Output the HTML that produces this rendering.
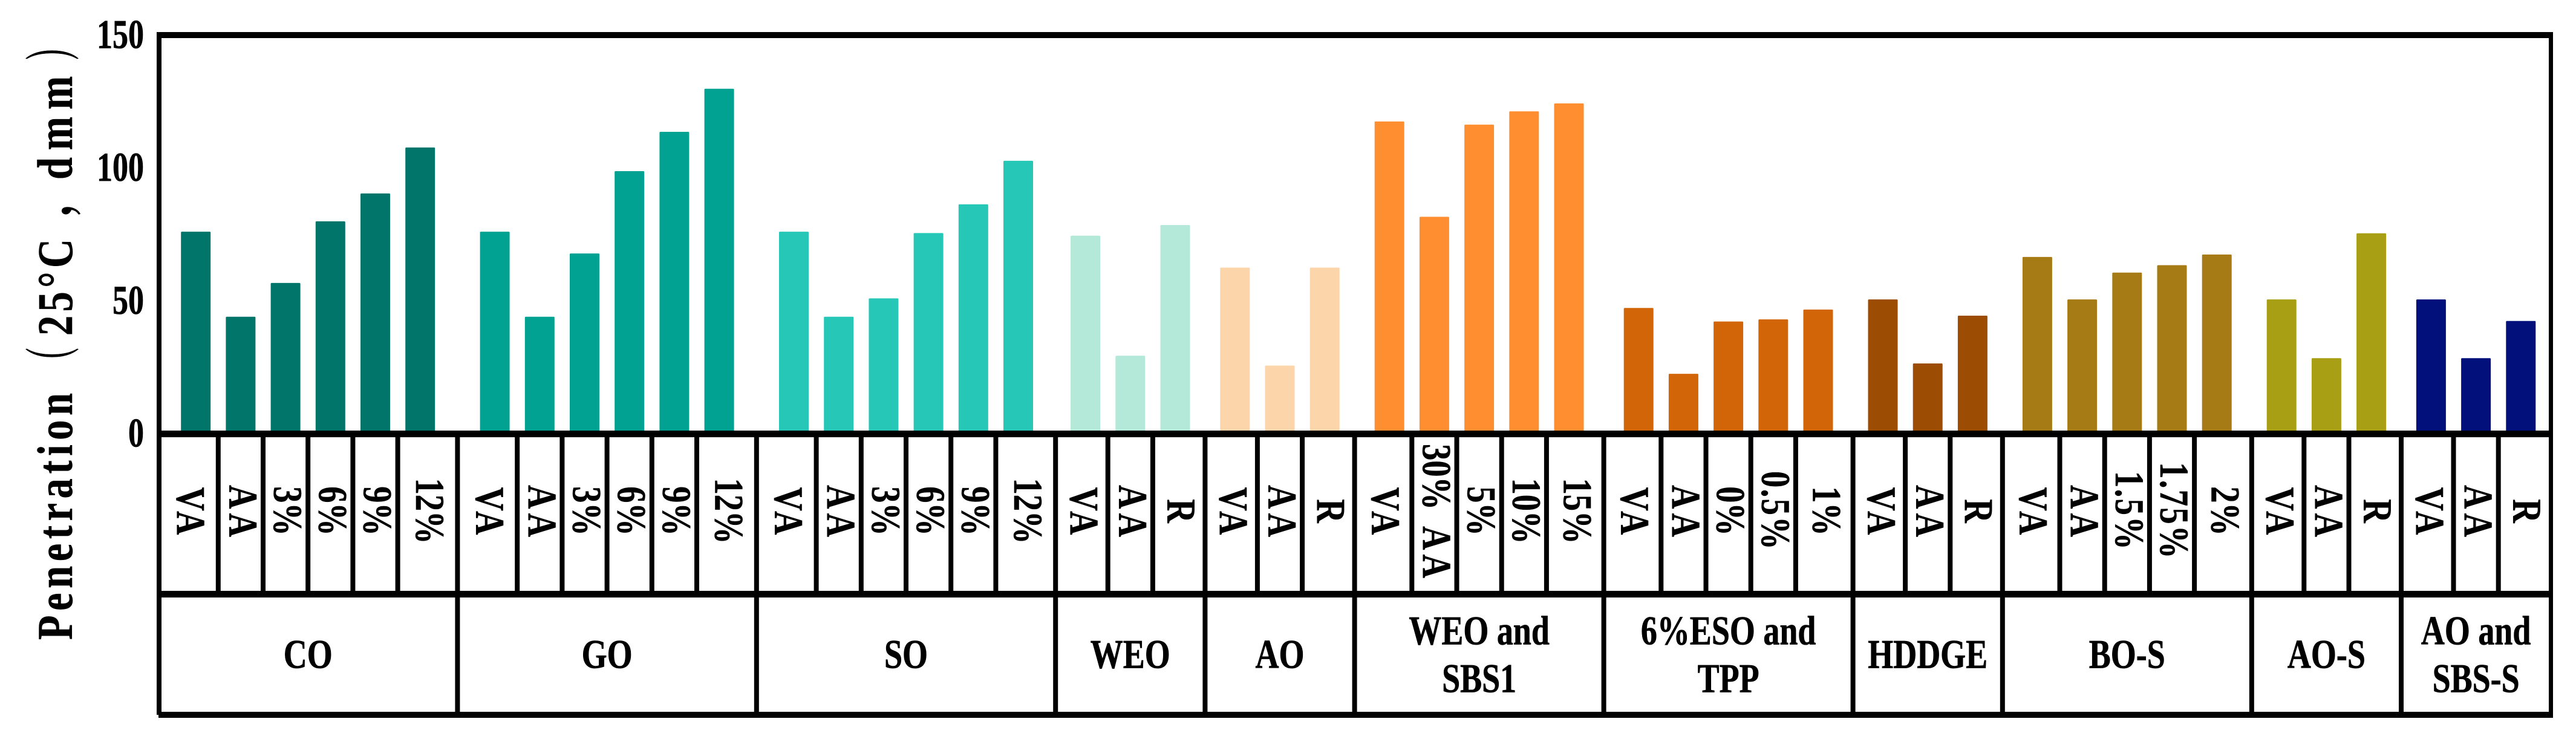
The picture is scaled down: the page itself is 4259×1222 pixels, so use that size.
<!DOCTYPE html>
<html lang="en">
<head>
<meta charset="utf-8">
<title>Penetration chart</title>
<style>
  html, body { margin: 0; padding: 0; background: #fff; }
  svg { display: block; }
  text { font-family: "Liberation Serif", "Noto Serif CJK SC", serif; font-weight: bold; fill: #000; stroke: #000; stroke-width: 0.6px; }
</style>
</head>
<body>
<svg id="chart" xmlns="http://www.w3.org/2000/svg" width="4259" height="1222" viewBox="0 0 4259 1222">
  <rect x="0" y="0" width="4259" height="1222" fill="#ffffff"/>
  <g id="bars"></g>
  <g id="separators"></g>
  <g fill="#000000">
    <rect x="259" y="53" width="3962" height="10"/>
    <rect x="259" y="53" width="8" height="1129"/>
    <rect x="4214" y="53" width="7" height="1133"/>
    <rect x="259" y="712" width="3962" height="11"/>
    <rect x="259" y="977" width="3962" height="11"/>
    <rect x="262" y="1177" width="3959" height="10"/>
  </g>
  <g id="ticks"></g>
  <g id="barLabels"></g>
  <g id="groupLabels"></g>
  <g>
    <text transform="translate(119,1058) rotate(-90) scale(0.8,1)" font-size="83" textLength="510" lengthAdjust="spacing">Penetration</text>
    <text transform="translate(121,620) rotate(-90) scale(0.5,1)" font-size="92">（</text>
    <text transform="translate(119,555) rotate(-90) scale(0.8,1)" font-size="83" textLength="200" lengthAdjust="spacing">25°C</text>
    <text transform="translate(114,358) rotate(-90) scale(0.8,1)" font-size="83">，</text>
    <text transform="translate(119,297) rotate(-90) scale(0.8,1)" font-size="83" textLength="214" lengthAdjust="spacing">dmm</text>
    <text transform="translate(121,100) rotate(-90) scale(0.5,1)" font-size="92">）</text>
  </g>
</svg>
<script>
const groupTitles = [["CO"], ["GO"], ["SO"], ["WEO"], ["AO"], ["WEO and", "SBS1"], ["6%ESO and", "TPP"], ["HDDGE"], ["BO-S"], ["AO-S"], ["AO and", "SBS-S"]];
const groupCategories = [
  ["VA", "AA", "3%", "6%", "9%", "12%"],
  ["VA", "AA", "3%", "6%", "9%", "12%"],
  ["VA", "AA", "3%", "6%", "9%", "12%"],
  ["VA", "AA", "R"],
  ["VA", "AA", "R"],
  ["VA", "30% AA", "5%", "10%", "15%"],
  ["VA", "AA", "0%", "0.5%", "1%"],
  ["VA", "AA", "R"],
  ["VA", "AA", "1.5%", "1.75%", "2%"],
  ["VA", "AA", "R"],
  ["VA", "AA", "R"]
];
const groupValues = [
  [76, 44, 56.7, 79.9, 90.4, 107.7],
  [76, 44, 67.8, 98.8, 113.6, 129.8],
  [76, 44, 50.9, 75.5, 86.3, 102.7],
  [74.5, 29.3, 78.5],
  [62.5, 25.6, 62.5],
  [117.5, 81.6, 116.3, 121.3, 124.3],
  [47.3, 22.5, 42.2, 43, 46.7],
  [50.5, 26.4, 44.4],
  [66.5, 50.5, 60.6, 63.4, 67.4],
  [50.5, 28.4, 75.4],
  [50.5, 28.4, 42.4]
];
const groupColors = ["#02756b", "#02a292", "#26c7b7", "#b4e9d9", "#fdd5aa", "#fe8e2f", "#d16508", "#9c4c03", "#a67a15", "#a89f14", "#01107a"];
const yTicks = [0, 50, 100, 150];

const SVG_NS = "http://www.w3.org/2000/svg";
const PLOT_LEFT = 262, SLOT = 82.4, PITCH = 74.2, BAR_W = 49;
const Y_ZERO = 717, Y_UNIT = 4.393;

function yScale(v) { return Y_ZERO - v * Y_UNIT; }
function groupStart(g) {
  let slots = 0;
  for (let i = 0; i < g; i++) slots += groupValues[i].length;
  return PLOT_LEFT + slots * SLOT;
}
function groupCenter(g) { return groupStart(g) + groupValues[g].length * SLOT / 2; }
function barCenter(g, i) { return groupCenter(g) + (i - (groupValues[g].length - 1) / 2) * PITCH; }
function make(tag, parent) {
  const el = document.createElementNS(SVG_NS, tag);
  parent.appendChild(el);
  return el;
}
function slug(s) { return s.toLowerCase().replace(/[^a-z0-9]+/g, "-").replace(/^-|-$/g, ""); }

const barsLayer = document.getElementById("bars");
const sepLayer = document.getElementById("separators");
const tickLayer = document.getElementById("ticks");
const barLabelLayer = document.getElementById("barLabels");
const groupLabelLayer = document.getElementById("groupLabels");

function vLine(x, y1, y2, name) {
  const r = make("rect", sepLayer);
  r.setAttribute("x", x - 4);
  r.setAttribute("y", y1);
  r.setAttribute("width", 8);
  r.setAttribute("height", y2 - y1);
  r.setAttribute("fill", "#000");
  
  
}

groupValues.forEach(function (vals, g) {
  const key = slug(groupTitles[g].join(" "));
  vals.forEach(function (v, i) {
    const bar = make("rect", barsLayer);
    bar.setAttribute("x", barCenter(g, i) - BAR_W / 2);
    bar.setAttribute("y", yScale(v));
    bar.setAttribute("width", BAR_W);
    bar.setAttribute("height", Y_ZERO - yScale(v));
    bar.setAttribute("rx", 1.5);
    bar.setAttribute("fill", groupColors[g]);
    
    

    if (i < vals.length - 1) {
      vLine((barCenter(g, i) + barCenter(g, i + 1)) / 2, 720, 980, 'category-separator');
    }

    const label = groupCategories[g][i];
    const left = i === 0 ? groupStart(g) : (barCenter(g, i - 1) + barCenter(g, i)) / 2;
    const right = i === vals.length - 1 ? groupStart(g) + vals.length * SLOT : (barCenter(g, i) + barCenter(g, i + 1)) / 2;
    const cx = (left + right) / 2;
    const t = make("text", barLabelLayer);
    t.setAttribute("font-size", 68);
    t.setAttribute("text-anchor", "middle");
    const m = label.match(/^(.*?)(VA|AA)$/);
    const yShift = m ? 3.6 : 0;
    t.setAttribute("transform", "translate(" + (cx - 19) + "," + (845 + yShift) + ") rotate(90) scale(0.8,1)");
    if (m) {
      if (m[1]) {
        const a = make("tspan", t);
        a.textContent = m[1] + "\u00a0";
      }
      const b = make("tspan", t);
      b.setAttribute("letter-spacing", 9);
      b.textContent = m[2];
    } else {
      if (label.indexOf(".") >= 0) t.setAttribute("letter-spacing", 3);
      t.textContent = label;
    }
    
    
  });

  if (g > 0) vLine(groupStart(g), 720, 1180, 'group-separator');

  const lines = groupTitles[g];
  lines.forEach(function (line, j) {
    const baseline = lines.length === 1 ? 1104.5 : (j === 0 ? 1065.5 : 1144.5);
    const t = make("text", groupLabelLayer);
    t.setAttribute("font-size", 54);
    t.setAttribute("text-anchor", "middle");
    t.setAttribute("transform", "translate(" + groupCenter(g) + "," + baseline + ") scale(1,1.25)");
    t.textContent = line;
    
    
  });
});

yTicks.forEach(function (v) {
  const t = make("text", tickLayer);
  t.setAttribute("font-size", 52);
  t.setAttribute("text-anchor", "end");
  t.setAttribute("transform", "translate(238," + (yScale(v) + 21.5) + ") scale(1,1.3)");
  t.textContent = String(v);
  
  
});
</script>
</body>
</html>
